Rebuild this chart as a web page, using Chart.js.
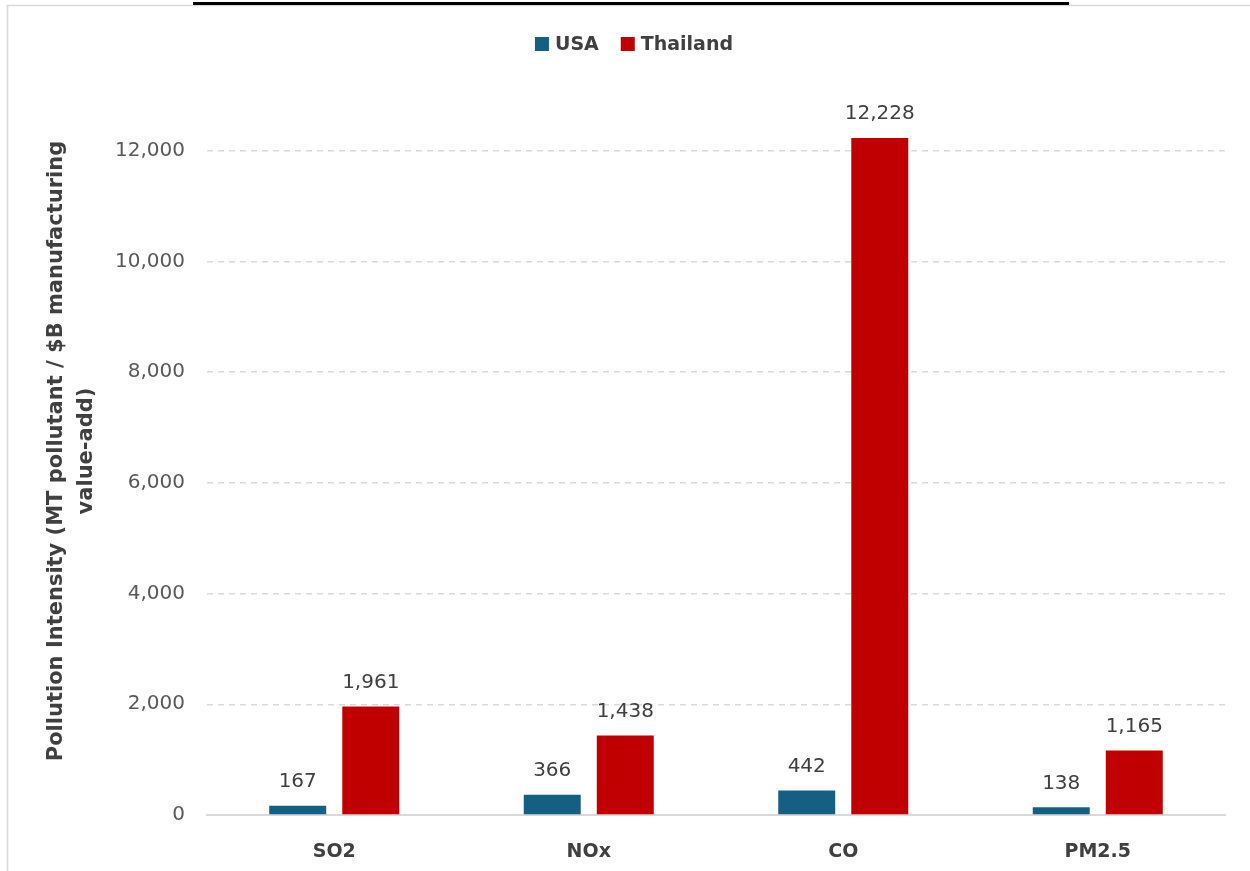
<!DOCTYPE html>
<html>
<head>
<meta charset="utf-8">
<script src="https://cdn.jsdelivr.net/npm/chart.js@4"></script>
<style>
  html, body { margin: 0; padding: 0; background: #fff; }
  #wrap { width: 1250px; height: 871px; position: relative; }
</style>
</head>
<body>
<div id="wrap"><canvas id="chart"></canvas></div>
<script>
const pollutants = ["SO2", "NOx", "CO", "PM2.5"];
const usaValues = [167, 366, 442, 138];
const thailandValues = [1961, 1438, 12228, 1165];
const yTicks = [0, 2000, 4000, 6000, 8000, 10000, 12000];

const FONT = "'DejaVu Sans', sans-serif";
const TEXT = "#404040";
const LINE = "#d9d9d9";

// white background, thin frame and the black rule along the top
const framePlugin = {
  id: "frame",
  beforeDraw(chart) {
    const ctx = chart.ctx;
    ctx.save();
    ctx.fillStyle = "#fff";
    ctx.fillRect(0, 0, chart.width, chart.height);
    ctx.strokeStyle = LINE;
    ctx.lineWidth = 1.6;
    ctx.beginPath();
    ctx.moveTo(7.5, chart.height);
    ctx.lineTo(7.5, 5.5);
    ctx.lineTo(chart.width, 5.5);
    ctx.stroke();
    ctx.fillStyle = "#000";
    ctx.fillRect(193, 2, 876, 3);
    ctx.restore();
  },
};

// legend drawn by hand so it sits centred over the whole frame
const legendPlugin = {
  id: "topLegend",
  afterDraw(chart) {
    const ctx = chart.ctx;
    ctx.save();
    ctx.font = "bold 19px " + FONT;
    ctx.textBaseline = "middle";
    const items = chart.data.datasets.map((ds) => ({
      label: ds.label,
      color: ds.backgroundColor,
      w: 14 + 6 + ctx.measureText(ds.label).width,
    }));
    const gap = 22;
    const total = items.reduce((s, it) => s + it.w, 0) + gap * (items.length - 1);
    let x = 634 - total / 2;
    const y = 44;
    items.forEach((it) => {
      ctx.fillStyle = it.color;
      ctx.fillRect(x, y - 7, 14, 14);
      ctx.fillStyle = TEXT;
      ctx.fillText(it.label, x + 20, y + 1);
      x += it.w + gap;
    });
    ctx.restore();
  },
};

// value labels above each bar
const valueLabels = {
  id: "valueLabels",
  afterDatasetsDraw(chart) {
    const ctx = chart.ctx;
    ctx.save();
    ctx.font = "20px " + FONT;
    ctx.fillStyle = TEXT;
    ctx.textAlign = "center";
    ctx.textBaseline = "middle";
    chart.data.datasets.forEach((ds, i) => {
      chart.getDatasetMeta(i).data.forEach((bar, j) => {
        ctx.fillText(ds.data[j].toLocaleString("en-US"), bar.x, bar.y - 24);
      });
    });
    ctx.restore();
  },
};

new Chart(document.getElementById("chart"), {
  type: "bar",
  data: {
    labels: pollutants,
    datasets: [
      { label: "USA", data: usaValues, backgroundColor: "#156082" },
      { label: "Thailand", data: thailandValues, backgroundColor: "#C00000" },
    ],
  },
  options: {
    responsive: true,
    maintainAspectRatio: false,
    animation: false,
    layout: { padding: { left: 7, top: 87, right: 25, bottom: 0 } },
    categoryPercentage: 0.574,
    barPercentage: 0.78,
    plugins: {
      legend: { display: false },
      tooltip: { enabled: false },
    },
    scales: {
      x: {
        grid: { display: false },
        border: { color: LINE, width: 2 },
        ticks: {
          color: TEXT,
          font: { family: FONT, size: 19, weight: "bold" },
          padding: 18,
        },
        afterFit: (s) => { s.height = 56; },
      },
      y: {
        min: 0,
        max: 13150,
        grid: {
          drawTicks: false,
          color: (c) => (c.tick && c.tick.value === 0 ? "rgba(0,0,0,0)" : LINE),
          lineWidth: 1.5,
        },
        border: { display: false, dash: [6, 5] },
        afterBuildTicks: (s) => { s.ticks = yTicks.map((v) => ({ value: v })); },
        ticks: {
          color: "#595959",
          font: { family: FONT, size: 20 },
          padding: 22,
          callback: (v) => v.toLocaleString("en-US"),
        },
        title: {
          display: true,
          text: ["Pollution Intensity (MT pollutant / $B manufacturing", "value-add)"],
          color: TEXT,
          font: { family: FONT, size: 21, weight: "bold", lineHeight: 1.45 },
          padding: { top: 34, bottom: 0 },
        },
        afterFit: (s) => { s.width = 200; },
      },
    },
  },
  plugins: [framePlugin, legendPlugin, valueLabels],
});
</script>
</body>
</html>
